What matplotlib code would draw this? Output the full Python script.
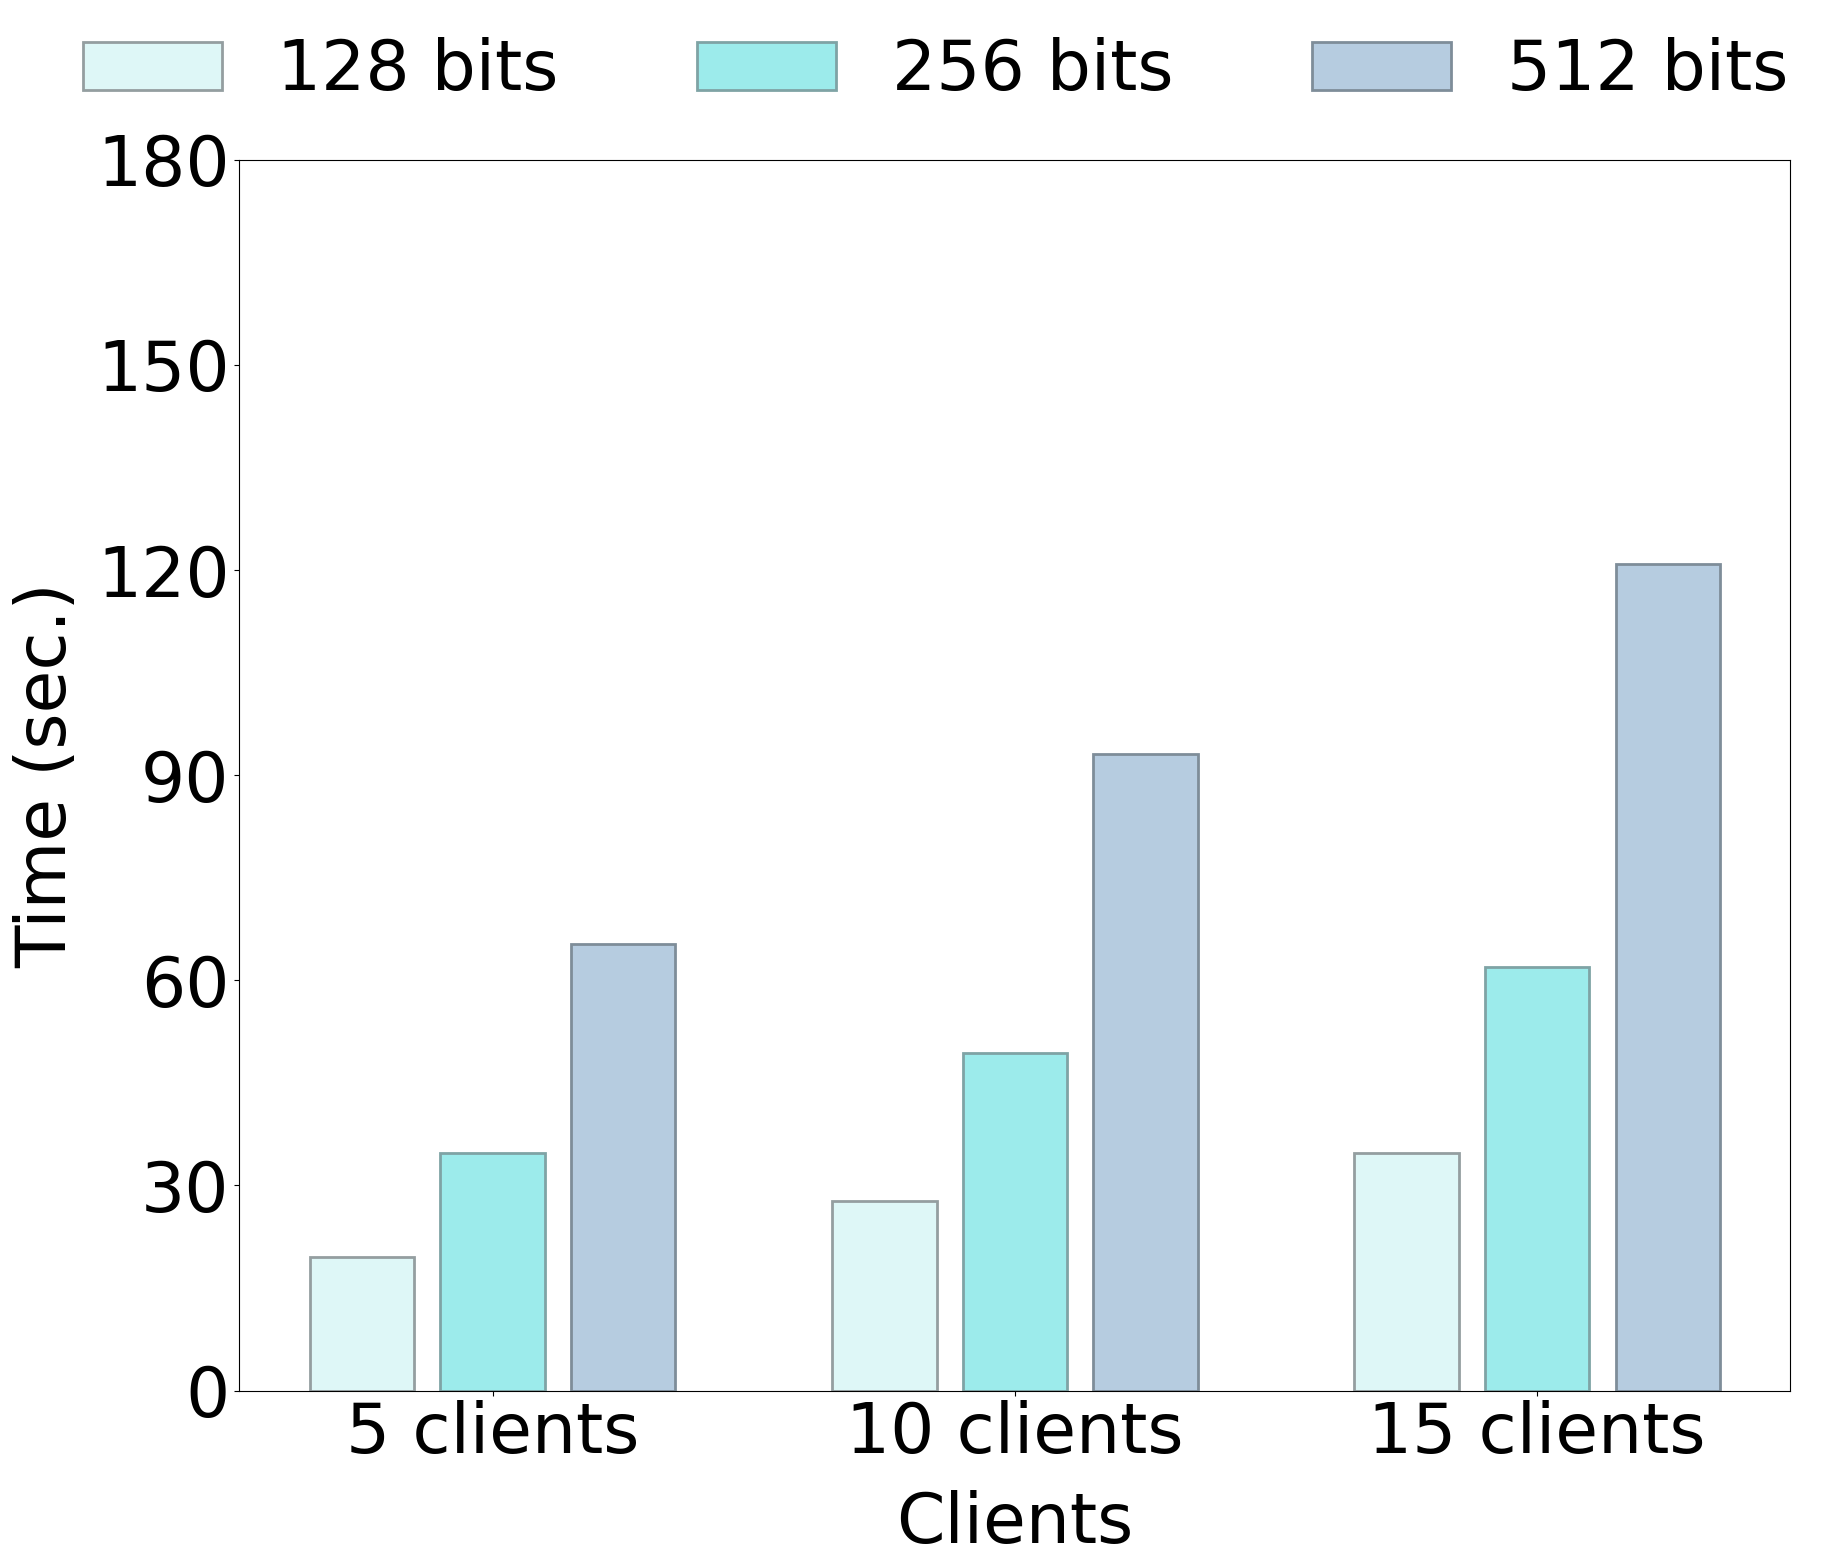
import matplotlib
matplotlib.use("Agg")
import matplotlib.pyplot as plt
import numpy as np

# data
clients = ["5 clients", "10 clients", "15 clients"]
series_labels = ["128 bits", "256 bits", "512 bits"]
time_128 = [19.5, 27.7, 34.8]
time_256 = [34.7, 49.3, 62.0]
time_512 = [65.3, 93.1, 120.9]

fills = ["#DEF7F7", "#9CEBEB", "#B6CCE0"]
edges = ["#949EA0", "#7FA3A5", "#7E8D99"]

plt.rcParams["font.family"] = "DejaVu Sans"
plt.rcParams["font.size"] = 50

fig = plt.figure(figsize=(18.27, 15.66), dpi=100)
ax = fig.add_axes([0.131, 0.112, 0.849, 0.786])

x = np.arange(len(clients))
width = 0.2
offset = 0.25
for i, (vals, lab) in enumerate(zip([time_128, time_256, time_512], series_labels)):
    ax.bar(x + (i - 1) * offset, vals, width, color=fills[i], edgecolor=edges[i],
           linewidth=2, label=lab)

ax.set_xticks(x)
ax.set_xticklabels(clients)
ax.set_ylim(0, 180)
ax.set_yticks(np.arange(0, 181, 30))
ax.set_xlabel("Clients", labelpad=16)
ax.set_ylabel("Time (sec.)", labelpad=12)
ax.tick_params(labelsize=50)

handles, labels = ax.get_legend_handles_labels()
fig.legend(handles, labels, loc="upper center", bbox_to_anchor=(0.512, 1.016),
           ncol=3, frameon=False, fontsize=50)

fig.savefig("out.png", dpi=100)
